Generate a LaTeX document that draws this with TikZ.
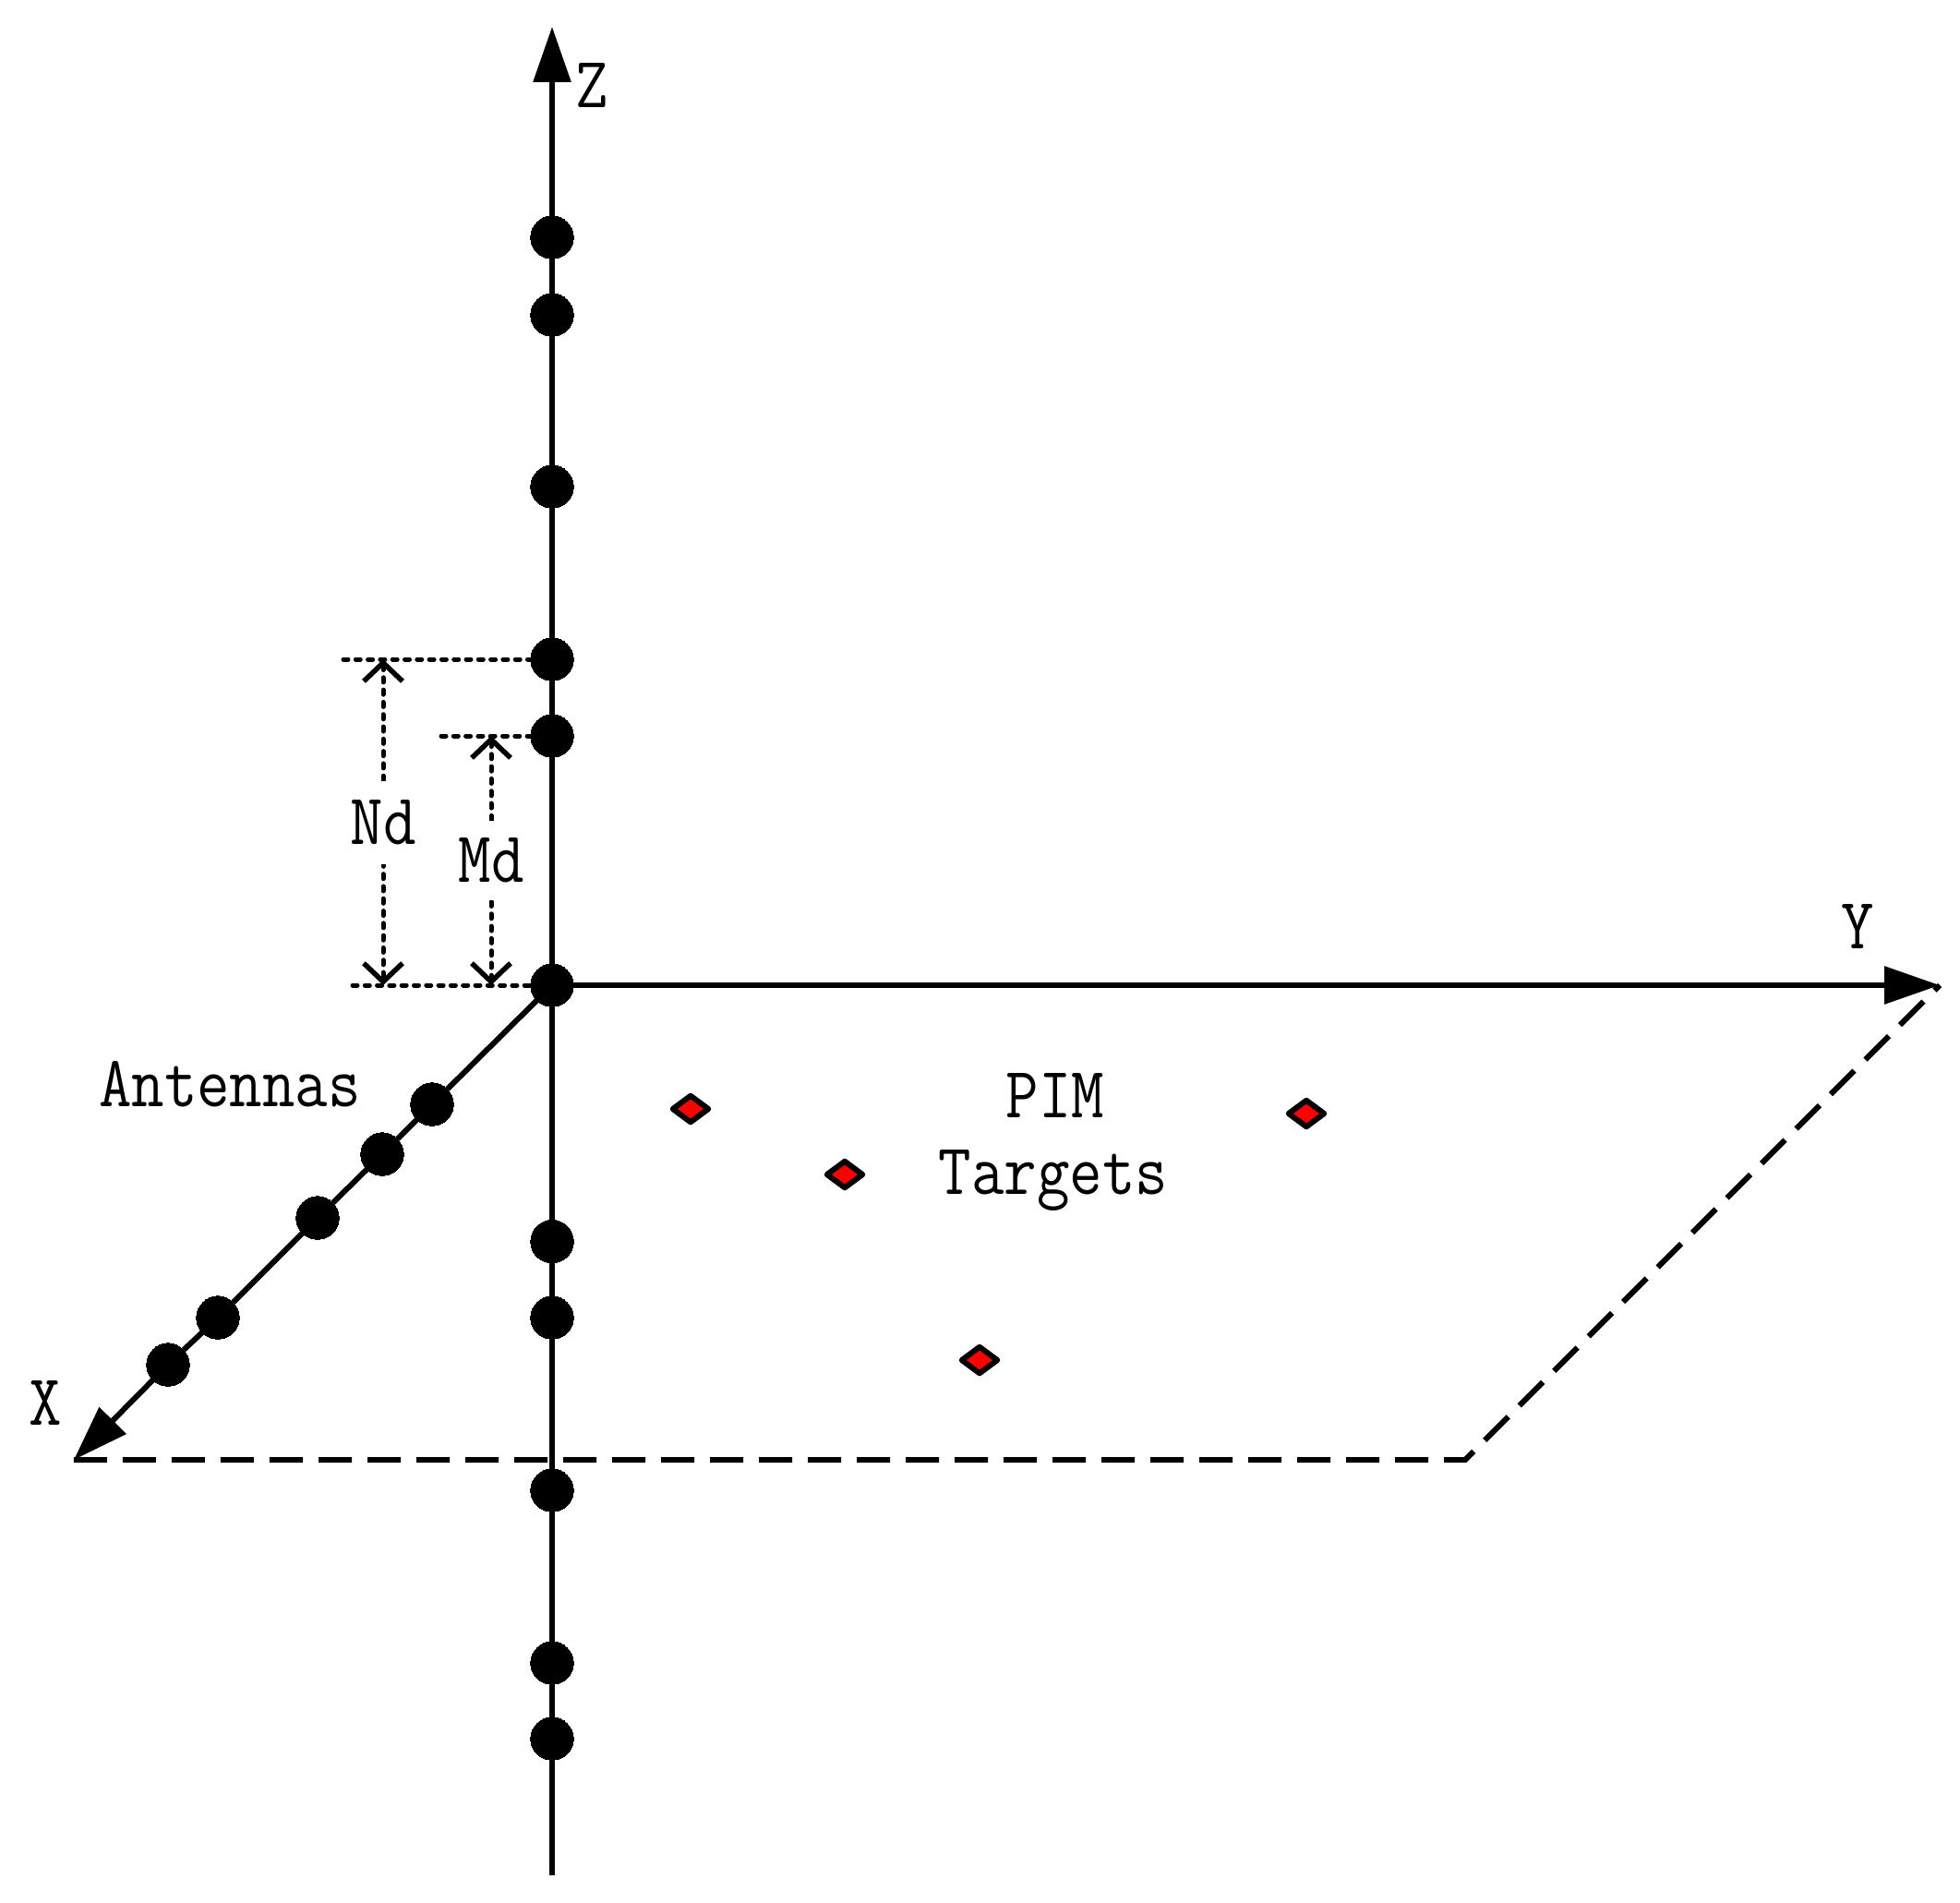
\documentclass[tikz,border=0pt]{standalone}
\usepackage{amsmath}
\usetikzlibrary{arrows.meta}
\usetikzlibrary{shapes.geometric}
\tikzset{>={Triangle[length=6mm,width=4mm]}}
\tikzset{vert/.style={draw,circle,fill=black,minimum size=4.65mm,inner sep=0pt,line width=0pt}}
\tikzset{target/.style={draw,diamond,fill=red,minimum width=4.1mm,minimum height=3.1mm,inner sep=0pt,line width=0.6mm,line join=round}}
\tikzset{axis/.style={line width=0.6mm}}
\tikzset{plane/.style={line width=0.6mm,dash pattern=on 3.6mm off 1.7mm}}
\tikzset{guide/.style={line width=0.5mm,line cap=round,dash pattern=on 0.5mm off 0.83mm}}
\tikzset{dim/.style={guide,{Straight Barb[length=2mm,width=4.2mm,line width=0.55mm]}-{Straight Barb[length=2mm,width=4.2mm,line width=0.55mm]}}}
\tikzset{lab/.style={inner sep=0pt,font=\fontsize{19.6}{23}\ttfamily}}
\newcommand{\stretchlab}[1]{\scalebox{1}[1.14]{#1}}

\begin{document}
\begin{tikzpicture}
\useasboundingbox (-5.98,-9.93) rectangle (15.25,10.67);

\node[vert] (o) at (0, 0) {};

% z axis
\node[vert] (z1) at (0, 8.10) {};
\node[vert] (z2) at (0, 7.26) {};
\node[vert] (z3) at (0, 5.40) {};
\node[vert] (z4) at (0, 3.53) {};
\node[vert] (z5) at (0, 2.70) {};
\node[vert] (z6) at (0, -2.775) {};
\node[vert] (z7) at (0, -3.60) {};
\node[vert] (z8) at (0, -5.47) {};
\node[vert] (z9) at (0, -7.34) {};
\node[vert] (z10) at (0, -8.16) {};

% x axis
\node[vert] (x1) at (-1.30, -1.29) {};
\node[vert] (x2) at (-1.84, -1.83) {};
\node[vert] (x3) at (-2.54, -2.52) {};
\node[vert] (x4) at (-3.62, -3.60) {};
\node[vert] (x5) at (-4.16, -4.11) {};

\node[target] (t1) at (1.50, -1.34) {};
\node[target] (t2) at (3.17, -2.05) {};
\node[target] (t3) at (4.63, -4.06) {};
\node[target] (t4) at (8.17, -1.39) {};

\coordinate (ztop) at (0, 10.38);
\coordinate (zend) at (0, -9.64);
\coordinate (xtip) at (-5.18, -5.14);
\coordinate (ytip) at (15.03, 0);
\coordinate (corner) at (9.89, -5.14);

\coordinate (ntop) at (-2.26, 3.53);
\coordinate (mtop) at (-1.20, 2.70);
\coordinate (base) at (-2.16, 0);
\coordinate (nhi) at (-1.83, 3.53);
\coordinate (nlo) at (-1.83, 0);
\coordinate (mhi) at (-0.66, 2.70);
\coordinate (mlo) at (-0.66, 0);

\draw[plane] (xtip) -- (corner) -- (ytip);

\draw[axis] (zend) -- (z10) -- (z9) -- (z8) -- (z7) -- (z6) -- (o);
\draw[axis,->] (o) -- (z5) -- (z4) -- (z3) -- (z2) -- (z1) -- (ztop);
\draw[axis,->] (o) -- (ytip);
\draw[axis,->] (o) -- (x1) -- (x2) -- (x3) -- (x4) -- (x5) -- (xtip);

\draw[guide] (ntop) -- (z4);
\draw[guide] (mtop) -- (z5);
\draw[guide] (base) -- (o);

\draw[dim] (nhi) -- node[lab,fill=white,minimum width=7mm,minimum height=9mm] (nd) {\stretchlab{Nd}} (nlo);
\draw[dim] (mhi) -- node[lab,fill=white,minimum width=7mm,minimum height=8.6mm] (md) {\stretchlab{Md}} (mlo);

\node[lab,anchor=base] (zlab) at (0.43, 9.51) {\stretchlab{Z}};
\node[lab,anchor=base] (xlab) at (-5.49, -4.76) {\stretchlab{X}};
\node[lab,anchor=base] (ylab) at (14.14, 0.40) {\stretchlab{Y}};
\node[lab,anchor=base] (ant) at (-3.49, -1.31) {\stretchlab{Antennas}};
\node[lab,anchor=base] (pim) at (5.45, -1.43) {\stretchlab{PIM}};
\node[lab,anchor=base] (tar) at (5.43, -2.26) {\stretchlab{Targets}};
\end{tikzpicture}
\end{document}
